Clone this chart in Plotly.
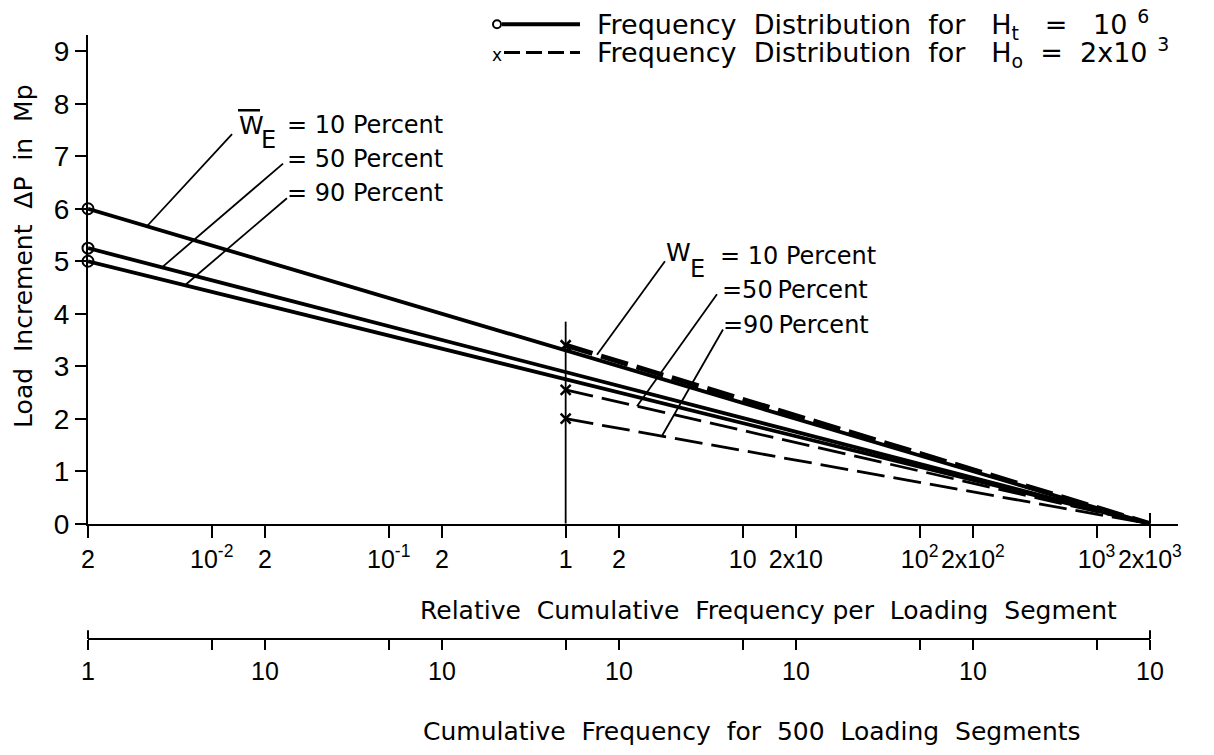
import numpy as np
import plotly.graph_objects as go

# ------------------------------------------------------------------ data
# Frequency distribution for H_t = 10^6 (solid lines, open circles)
x_ht = [0.002, 2000]
y_ht_10 = [6.0, 0.0]
y_ht_50 = [5.25, 0.0]
y_ht_90 = [5.0, 0.0]
# Frequency distribution for H_o = 2x10^3 (dashed lines, crosses)
x_ho = [1, 2000]
y_ho_10 = [3.4, 0.0]
y_ho_50 = [2.55, 0.0]
y_ho_90 = [2.0, 0.0]
# vertical guide at the start of the H_o distributions
x_guide = [1, 1]
y_guide = [0.0, 3.85]

pct_labels = ["10", "50", "90"]

x_tickvals = [0.002, 0.01, 0.02, 0.1, 0.2, 1, 2, 10, 20, 100, 200, 1000, 2000]
x_ticktext = ["2", "10<sup>-2</sup>", "2", "10<sup>-1</sup>", "2", "1", "2", "10",
              "2x10", "10<sup>2</sup>", "2x10<sup>2</sup>", "10<sup>3</sup>", "2x10<sup>3</sup>"]
bottom_tickvals = [0.002, 0.02, 0.2, 2, 20, 200, 2000]
bottom_ticktext = ["1", "10", "10", "10", "10", "10", "10"]
bottom_minorvals = [0.01, 0.1, 1, 10, 100, 1000]
y_tickvals = [0, 1, 2, 3, 4, 5, 6, 7, 8, 9]

# ------------------------------------------------------------------ layout constants
W, H = 1214, 755
ML, MR, MT, MB = 88, 36, 35, 10
PW, PH = W - ML - MR, H - MT - MB
PLOT_BOTTOM_PX = 535
FONT = "DejaVu Sans"
TICK_FONT = "Liberation Sans"
NB = "\u00a0"


def px(xp):
    return (xp - ML) / PW


def py(yp):
    return (H - MB - yp) / PH


x_range = [np.log10(0.002), 3.46]
y_range = [0, 9.31]

fig = go.Figure()

solid_w = 3.8
for ys in (y_ht_10, y_ht_50, y_ht_90):
    fig.add_trace(go.Scatter(x=x_ht, y=ys, mode="lines+markers",
                             line=dict(color="black", width=solid_w),
                             marker=dict(symbol="circle-open", size=11, opacity=[1, 0],
                                         line=dict(width=2, color="black")),
                             showlegend=False, hoverinfo="skip", cliponaxis=False))

fig.add_trace(go.Scatter(x=x_guide, y=y_guide, mode="lines",
                         line=dict(color="black", width=1.8),
                         showlegend=False, hoverinfo="skip"))

for ys, wdt in [(y_ho_10, 5), (y_ho_50, 2.8), (y_ho_90, 2.8)]:
    fig.add_trace(go.Scatter(x=x_ho, y=ys, mode="lines+markers",
                             line=dict(color="black", width=wdt, dash="28px,9px"),
                             marker=dict(symbol="x-thin-open", size=10, opacity=[1, 0],
                                         line=dict(width=2.5, color="black")),
                             showlegend=False, hoverinfo="skip"))

# leader lines from labels to curves (tip x in log10 units, end in (log10 x, y))
left_tip_logx = [-2.366, -2.281, -2.151]
left_end = [(-1.885, 7.42), (-1.597, 6.86), (-1.575, 6.20)]
right_tip_logx = [0.177, 0.403, 0.544]
right_end = [(0.561, 5.0), (0.855, 4.37), (0.889, 3.70)]

for series, tips, ends, xs in [((y_ht_10, y_ht_50, y_ht_90), left_tip_logx, left_end, x_ht),
                               ((y_ho_10, y_ho_50, y_ho_90), right_tip_logx, right_end, x_ho)]:
    for ys, tx, (ex, ey) in zip(series, tips, ends):
        ty = float(np.interp(tx, np.log10(xs), ys))
        fig.add_trace(go.Scatter(x=[10 ** tx, 10 ** ex], y=[ty, ey], mode="lines",
                                 line=dict(color="black", width=1.8),
                                 showlegend=False, hoverinfo="skip"))

# dummy trace for the second (bottom) axis
fig.add_trace(go.Scatter(x=bottom_tickvals, y=[None] * len(bottom_tickvals), xaxis="x2", yaxis="y",
                         mode="markers", showlegend=False, hoverinfo="skip"))

annotations = []


def text(xp, yp, s, size=24, xanchor="left", yanchor="middle", angle=0):
    annotations.append(dict(x=px(xp), y=py(yp), xref="paper", yref="paper", text=s,
                            showarrow=False, xanchor=xanchor, yanchor=yanchor, textangle=angle,
                            font=dict(family=FONT, size=size, color="black")))


# left label group
text(237, 128, "W", 25)
text(259, 142, "E", 24)
for lab, yp in zip(pct_labels, [127, 162, 197]):
    text(285, yp, f"= {lab} Percent", 24)
# right label group
text(664, 258, "W", 25)
text(688, 274, "E", 24)
text(718, 261, "= 10 Percent", 24)
text(720, 296, "=50\u2009Percent", 24)
text(721, 332, "=90\u2009Percent", 24)

# legend
text(595, 24, f"Frequency{NB} Distribution{NB} for{NB}{NB} H<sub>t</sub>{NB}{NB}{NB}={NB}{NB} 10<sup>\u2009 6</sup>", 27)
text(595, 53, f"Frequency{NB} Distribution{NB} for{NB}{NB} H<sub>o</sub>{NB} ={NB} 2x10<sup>\u2009 3</sup>", 27)
text(497, 55, "x", 17, xanchor="center")

# axis titles
text(768, 624, f"Relative{NB} Cumulative{NB} Frequency per{NB} Loading{NB} Segment", 25, xanchor="center")
text(752, 748, f"Cumulative{NB} Frequency{NB} for{NB} 500{NB} Loading{NB} Segments", 25, xanchor="center")
text(24, 262, f"Load{NB} Increment{NB} \u0394P{NB} in{NB} Mp", 25, xanchor="center", angle=-90)

BOT_AX = 653
shapes = [
    # overbar on left W
    dict(type="line", xref="paper", yref="paper", x0=px(238), x1=px(260), y0=py(112), y1=py(112),
         line=dict(color="black", width=2.5)),
    # legend symbols
    dict(type="circle", xref="paper", yref="paper", x0=px(493), x1=px(501), y0=py(20), y1=py(28),
         line=dict(color="black", width=2)),
    dict(type="line", xref="paper", yref="paper", x0=px(502), x1=px(580), y0=py(24), y1=py(24),
         line=dict(color="black", width=4)),
    dict(type="line", xref="paper", yref="paper", x0=px(504), x1=px(580), y0=py(53), y1=py(53),
         line=dict(color="black", width=3, dash="16px,6px")),
    # end caps of the bottom axis
    dict(type="line", xref="paper", yref="paper", x0=px(88), x1=px(88), y0=py(BOT_AX - 9), y1=py(BOT_AX),
         line=dict(color="black", width=2)),
    dict(type="line", xref="paper", yref="paper", x0=px(1150), x1=px(1150), y0=py(BOT_AX - 9), y1=py(BOT_AX),
         line=dict(color="black", width=2)),
    # upper part of the 2x10^3 tick
    dict(type="line", xref="paper", yref="paper", x0=px(1150), x1=px(1150), y0=py(524), y1=py(535),
         line=dict(color="black", width=2)),
]

tickfont = dict(family=TICK_FONT, size=25, color="black")
fig.update_layout(
    width=W, height=H,
    margin=dict(l=ML, r=MR, t=MT, b=MB, pad=0),
    paper_bgcolor="white", plot_bgcolor="rgba(0,0,0,0)",
    font=dict(family=FONT, color="black"),
    showlegend=False,
    annotations=annotations,
    shapes=shapes,
    xaxis=dict(type="log", range=x_range, domain=[0, 1], anchor="y",
               showline=True, linecolor="black", linewidth=2,
               ticks="outside", ticklen=12, tickwidth=2, tickcolor="black",
               tickvals=x_tickvals, ticktext=x_ticktext, tickfont=tickfont, tickangle=0,
               showgrid=False, zeroline=False),
    xaxis2=dict(type="log", range=[np.log10(0.002), np.log10(2000)],
                domain=[0, px(1150)], anchor="free", position=py(BOT_AX),
                showline=True, linecolor="black", linewidth=2,
                ticks="outside", ticklen=10, tickwidth=2, tickcolor="black",
                tickvals=bottom_tickvals, ticktext=bottom_ticktext, tickfont=tickfont, tickangle=0,
                minor=dict(tickvals=bottom_minorvals, ticks="outside", ticklen=10,
                           tickwidth=2, tickcolor="black", showgrid=False),
                showgrid=False, zeroline=False),
    yaxis=dict(range=y_range, domain=[py(PLOT_BOTTOM_PX), 1], anchor="x",
               showline=True, linecolor="black", linewidth=2,
               ticks="outside", ticklen=11, tickwidth=2, tickcolor="black",
               tickvals=y_tickvals, tickfont=dict(family=TICK_FONT, size=28, color="black"),
               showgrid=False, zeroline=False),
)

fig.write_html("out.html")
